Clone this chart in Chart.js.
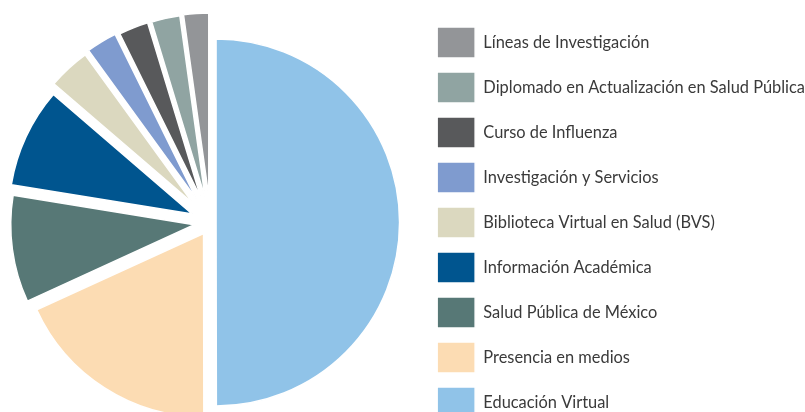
<!DOCTYPE html>
<html>
<head>
<meta charset="utf-8">
<script src="https://cdn.jsdelivr.net/npm/chart.js@4/dist/chart.umd.min.js"></script>
<style>
  html, body { margin: 0; padding: 0; background: #fff; overflow: hidden; }
  body { width: 805px; height: 412px; }
  #wrap { position: relative; width: 817px; height: 450px; margin-left: -2px; }
</style>
</head>
<body>
<div id="wrap"><canvas id="graf"></canvas></div>
<script>
const categorias = [
  "Educación Virtual",
  "Presencia en medios",
  "Salud Pública de México",
  "Información Académica",
  "Biblioteca Virtual en Salud (BVS)",
  "Investigación y Servicios",
  "Curso de Influenza",
  "Diplomado en Actualización en Salud Pública",
  "Líneas de Investigación"
];
const valores = [50, 18.2, 9.4, 8.75, 3.7, 2.7, 2.6, 2.5, 2.2];
const colores = ["#90c3e8", "#fcdcb3", "#577876", "#00558f", "#dbd8bf", "#7f9bcf", "#58595b", "#90a4a2", "#939598"];
// desplazamiento de cada sector hacia fuera (px)
const separacion = [5.5, 13, 16.5, 20, 26, 27.5, 26, 25.5, 26];

Chart.defaults.font.family = "Lato, 'Open Sans', sans-serif";

// separa los sectores a lo largo de su bisectriz sin cambiar radio ni angulo
const explotar = {
  id: "explotar",
  afterDatasetsUpdate(chart) {
    chart.getDatasetMeta(0).data.forEach((arc, i) => {
      const medio = (arc.startAngle + arc.endAngle) / 2;
      arc.x += Math.cos(medio) * separacion[i];
      arc.y += Math.sin(medio) * separacion[i];
    });
  }
};

const ctx = document.getElementById("graf").getContext("2d");
new Chart(ctx, {
  type: "pie",
  data: {
    labels: categorias,
    datasets: [{
      data: valores,
      backgroundColor: colores,
      borderColor: "#ffffff",
      borderWidth: 1.5
    }]
  },
  options: {
    responsive: true,
    maintainAspectRatio: false,
    animation: false,
    radius: 183.5,
    layout: { padding: { top: 0, bottom: 5, left: 0, right: 0 } },
    plugins: {
      legend: {
        position: "right",
        align: "center",
        reverse: true,
        labels: {
          boxWidth: 38,
          boxHeight: 31,
          padding: 14,
          color: "#3a3a3a",
          font: { size: 16.4 }
        }
      },
      tooltip: { enabled: false }
    }
  },
  plugins: [explotar]
});
</script>
</body>
</html>
